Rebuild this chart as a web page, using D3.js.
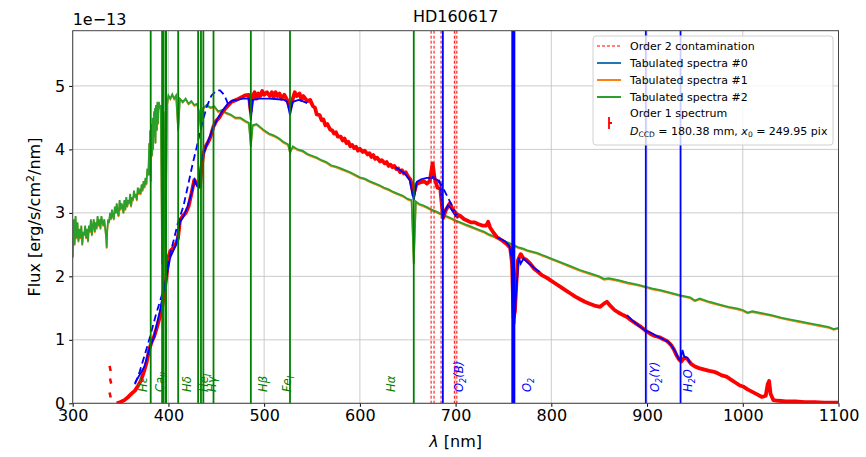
<!DOCTYPE html>
<html><head><meta charset="utf-8">
<script src="https://cdn.jsdelivr.net/npm/d3@7"></script>
<style>body{margin:0;background:#fff}svg{font-family:"DejaVu Sans",sans-serif}</style>
</head><body>
<svg id="c" width="866" height="457"></svg>
<script>
const title = "HD160617";
const xTicks = [300,400,500,600,700,800,900,1000,1100];
const yTicks = [0,1,2,3,4,5];

// Tabulated spectrum #2 (green) [nm, flux/1e-13]
const tab2 = [[300,2.3],[301,2.9],[302,2.5],[303,2.95],[304,2.6],[305,2.85],[306,2.55],[307,2.75],[308,2.6],[309,2.8],[310,2.5],[311,2.7],[312,2.65],[313,2.8],[314,2.6],[315,2.75],[316,2.55],[317,2.8],[318,2.7],[319,2.9],[320,2.65],[321,2.8],[322,2.9],[323,2.7],[324,2.85],[325,2.75],[326,2.95],[327,2.8],[328,2.9],[329,2.75],[330,2.95],[331,2.85],[332,2.8],[333,2.9],[334,2.75],[335,2.6],[335.5,2.45],[336,2.7],[337,2.9],[338,2.85],[339,3.0],[340,2.9],[341,3.05],[342,2.95],[343,2.9],[344,3.1],[345,3.0],[346,3.15],[347,3.0],[348,2.95],[349,3.2],[350,3.05],[351,3.15],[352,3.1],[353,3.0],[354,3.2],[355,3.05],[356,3.25],[357,3.1],[358,3.2],[359,3.15],[360,3.3],[361,3.1],[362,3.25],[363,3.2],[364,3.35],[365,3.25],[366,3.3],[367,3.2],[368,3.4],[369,3.3],[370,3.35],[371,3.3],[372,3.45],[373,3.35],[374,3.5],[375,3.4],[376,3.55],[377,3.45],[378,3.7],[379,3.6],[380,4.1],[380.5,3.6],[381,4.3],[381.5,3.5],[382,4.4],[383,3.9],[383.5,4.5],[384,4.0],[385,4.6],[385.5,4.2],[386,4.65],[386.5,4.1],[387,4.7],[388,4.3],[388.5,4.75],[389,4.4],[390,4.75],[391,4.65],[392,4.7],[393.4,2.2],[395,4.6],[396.8,2.0],[398.5,4.7],[400,4.85],[402,4.8],[404,4.87],[406,4.8],[408,4.85],[410.2,4.3],[412,4.8],[415,4.75],[418,4.8],[421,4.72],[424,4.76],[427,4.7],[430,4.72],[432,4.6],[434,4.3],[436,4.65],[440,4.7],[444,4.66],[448,4.68],[452,4.6],[456,4.62],[460,4.58],[465,4.55],[470,4.5],[475,4.5],[480,4.45],[484,4.42],[486.1,4.05],[488,4.38],[492,4.4],[496,4.35],[500,4.3],[505,4.25],[510,4.22],[515,4.18],[520,4.12],[525,4.08],[527,3.95],[530,4.05],[535,4.0],[540,3.98],[545,3.93],[550,3.9],[555,3.87],[560,3.83],[565,3.8],[570,3.75],[575,3.73],[580,3.7],[585,3.67],[590,3.64],[595,3.6],[600,3.56],[605,3.54],[610,3.5],[615,3.47],[620,3.44],[625,3.4],[630,3.37],[635,3.33],[640,3.3],[645,3.27],[650,3.22],[654,3.2],[656.3,2.2],[658.5,3.18],[662,3.14],[666,3.12],[670,3.09],[675,3.05],[680,3.02],[685,2.98],[690,2.95],[695,2.92],[700,2.88],[705,2.85],[710,2.82],[715,2.79],[720,2.76],[725,2.73],[730,2.7],[735,2.66],[740,2.63],[745,2.6],[750,2.56],[755,2.53],[760,2.5],[765,2.46],[770,2.44],[775,2.41],[780,2.39],[785,2.37],[790,2.34],[795,2.31],[800,2.28],[810,2.22],[820,2.16],[830,2.1],[840,2.05],[850,2.0],[855,1.96],[860,1.97],[870,1.94],[880,1.9],[890,1.87],[898,1.84],[905,1.81],[915,1.78],[925,1.74],[935,1.7],[945,1.67],[950,1.62],[955,1.65],[965,1.6],[975,1.56],[985,1.52],[995,1.49],[1000,1.47],[1005,1.43],[1010,1.45],[1020,1.42],[1030,1.39],[1040,1.35],[1050,1.32],[1060,1.29],[1070,1.26],[1080,1.23],[1090,1.2],[1095,1.17],[1100,1.19]];

// Order 1 spectrum (red)
const order1 = [[346,0.0],[350,0.02],[354,0.05],[358,0.1],[362,0.16],[365,0.2],[368,0.27],[371,0.35],[374,0.48],[377,0.63],[380,0.85],[382.5,0.97],[385,1.05],[388,1.2],[391,1.36],[393.4,1.5],[396,1.78],[398,2.0],[400,2.3],[402,2.4],[405,2.45],[408,2.52],[410,2.6],[412,2.88],[415,2.95],[418,3.0],[421,3.1],[424,3.3],[427,3.52],[430,3.45],[433,3.41],[434.5,3.7],[436.5,3.94],[439,4.05],[441.7,4.12],[444,4.2],[447,4.36],[450,4.45],[453,4.5],[457,4.6],[461,4.67],[466,4.75],[471,4.78],[476,4.82],[480,4.85],[484,4.86],[486,4.6],[488,4.84],[490,4.9],[492,4.8],[494,4.88],[496,4.84],[498,4.92],[500,4.86],[503,4.9],[506,4.84],[508,4.9],[510,4.82],[512,4.9],[514,4.84],[516,4.88],[518,4.8],[521,4.86],[524,4.78],[527,4.65],[530,4.8],[532,4.9],[534,4.84],[537,4.88],[539,4.78],[541,4.84],[545,4.76],[548,4.78],[551,4.68],[553,4.66],[555,4.55],[558,4.54],[560,4.46],[562,4.47],[564,4.38],[566,4.4],[569,4.31],[571,4.3],[573,4.25],[575,4.27],[577,4.2],[580,4.2],[582,4.14],[584,4.17],[586,4.1],[588,4.12],[590,4.05],[592,4.07],[594,4.02],[596,4.04],[598,3.98],[600,4.01],[603,3.96],[605,3.98],[608,3.92],[610,3.94],[612,3.88],[614,3.91],[616,3.85],[618,3.87],[621,3.81],[623,3.83],[626,3.78],[628,3.8],[630,3.74],[632,3.76],[634,3.72],[636,3.74],[638,3.69],[640,3.7],[642,3.64],[644,3.67],[646,3.62],[648,3.64],[650,3.58],[653,3.52],[656,3.28],[659,3.45],[663,3.48],[667,3.5],[670,3.46],[673,3.5],[676,3.78],[678,3.55],[681,3.4],[684,3.38],[687,2.92],[690,3.05],[694,3.15],[697,3.05],[701,2.98],[705,2.95],[709,2.9],[712,2.88],[716,2.85],[720,2.85],[724,2.82],[728,2.8],[732,2.8],[734,2.86],[736,2.77],[740,2.68],[743,2.62],[747,2.58],[750,2.55],[754,2.5],[757,2.45],[759,2.2],[760.5,1.35],[762,1.45],[763.5,1.9],[765,2.25],[768,2.35],[771,2.28],[774,2.26],[778,2.2],[782,2.12],[786,2.07],[790,2.02],[795,1.98],[800,1.93],[805,1.88],[810,1.83],[815,1.78],[820,1.73],[825,1.68],[830,1.64],[835,1.6],[840,1.57],[845,1.54],[851,1.52],[855,1.57],[858,1.6],[862,1.53],[866,1.47],[870,1.43],[875,1.39],[879,1.36],[884,1.3],[889,1.25],[894,1.2],[898,1.15],[903,1.1],[908,1.06],[913,1.04],[917,1.01],[921,0.98],[925,0.92],[928,0.85],[931,0.75],[934,0.68],[936,0.66],[939,0.72],[942,0.7],[946,0.62],[950,0.58],[955,0.55],[960,0.53],[965,0.51],[969,0.5],[973,0.48],[978,0.44],[983,0.42],[988,0.37],[993,0.32],[997,0.28],[1001,0.26],[1005,0.22],[1010,0.18],[1015,0.14],[1020,0.1],[1024,0.12],[1026,0.3],[1027.5,0.35],[1029,0.15],[1032,0.05],[1037,0.04],[1045,0.03],[1055,0.03],[1065,0.02],[1075,0.02],[1085,0.01],[1095,0.01],[1100,0.01]];
// isolated order-1 points with error bars [nm, flux, err]
const order1Pts = [[338.5,0.55,0.04],[339,0.35,0.04],[338.5,0.13,0.04]];

// blue solid model segments
const modelSolid = [
 [[365,0.32],[370,0.45],[375,0.58],[380,0.85],[385,1.05],[391,1.45],[398,2.0],[402,2.3],[408,2.5],[412,2.85],[416,2.95],[420,3.1],[424,3.3],[427.5,3.52],[430,3.42],[432,3.41],[434,3.8],[437,3.95],[442,4.15],[447,4.35],[452,4.5],[457,4.62],[462,4.72],[467,4.77],[472,4.78],[478,4.8],[484,4.8],[486.1,4.46],[488,4.78],[495,4.8],[505,4.8],[515,4.79],[521,4.78],[524,4.75],[527,4.54],[530,4.75],[536,4.78],[540,4.76],[545,4.73]],
 [[637,3.72],[642,3.67],[647,3.62],[652,3.52],[656.3,3.2],[659.5,3.49],[664,3.53],[670,3.55],[676,3.55],[681,3.52],[684,3.45],[686.7,2.9],[688,3.0],[692,3.12],[696,3.05],[700,2.95],[703,2.92]],
 [[743,2.62],[748,2.58],[752,2.55],[756,2.48],[758.5,2.3],[760,1.3],[761.5,1.25],[763,1.7],[764.5,2.0],[766,2.3],[768,2.2],[771,2.28],[775,2.22],[780,2.16],[785,2.1],[788,2.07]],
 [[879,1.39],[885,1.3],[890,1.24],[895,1.18],[898.7,1.14],[903,1.12],[910,1.06],[917,1.01],[922,0.97],[926,0.9],[930,0.8],[933,0.7],[935,0.68],[937,0.84],[939,0.73],[942,0.72],[945,0.63]]
];
// blue dashed model segments
const modelDashed = [
 [[365,0.3],[370,0.5],[375,0.75],[380.8,1.05],[387,1.4],[394.7,1.78],[401.7,2.35],[406,2.6],[410,2.85],[415.6,3.1],[420,3.4],[425,3.75],[429.6,4.04],[435,4.4],[440,4.67],[445,4.85],[450.5,4.93],[454,4.93],[457,4.88],[460,4.8],[462.6,4.7],[466,4.76]],
 [[672,3.55],[677,3.57],[681,3.55],[685,3.45],[690,3.3],[695,3.15],[700,3.0],[704,2.92]]
];

// vertical lines
const order2Lines = [674.4,677.5,684.8,686.2,698.7,701.3];
const atomLines = [381.5,393.4,394.4,396.8,397.6,410.2,431.0,434.0,436.5,447.1,486.1,527.0,656.3];
const atmLines = [686.7,898.7,935.0];
const o2ALine = 760.3;
// labels: [text, subscript, suffix, label x (nm), colour group]
const labels = [
 ["Hε","","",373.5,"g"],["Ca","II","",391,"g"],["Hδ","","",419.5,"g"],["He","I","",437.5,"g"],["Hγ","","",445.5,"g"],
 ["Hβ","","",498.5,"g"],["Fe","I","",523.5,"g"],["Hα","","",633,"g"],
 ["O","2","(B)",703.5,"b"],["O","2","",774.5,"b"],["O","2","(Y)",908.5,"b"],["H","2","O",943,"b"]
];

const svg = d3.select("#c");
const x = d3.scaleLinear().domain([300,1100]).range([72.7,838.5]);
const y = d3.scaleLinear().domain([0,5.87]).range([403.3,30.7]);
const [x0,x1] = x.range(), [yb,yt] = y.range();

svg.append("defs").append("clipPath").attr("id","clip").append("rect")
 .attr("x",x0).attr("y",yt).attr("width",x1-x0).attr("height",yb-yt);

// grid
const grid = svg.append("g").attr("stroke","#b0b0b0").attr("stroke-width",0.8).attr("opacity",0.8);
xTicks.forEach(t=>grid.append("line").attr("x1",x(t)).attr("x2",x(t)).attr("y1",yt).attr("y2",yb));
yTicks.forEach(t=>grid.append("line").attr("y1",y(t)).attr("y2",y(t)).attr("x1",x0).attr("x2",x1));

const plot = svg.append("g").attr("clip-path","url(#clip)");
const line = d3.line().x(d=>x(d[0])).y(d=>y(d[1]));

// tabulated #1 (orange, under) and #2 (green)
plot.append("path").datum(tab2).attr("d",d3.line().x(d=>x(d[0])).y(d=>y(d[1])+1)).attr("fill","none").attr("stroke","#ff7f0e").attr("stroke-width",1.5);
plot.append("path").datum(tab2).attr("d",line).attr("fill","none").attr("stroke","#2ca02c").attr("stroke-width",1.8);

// order 1 spectrum
plot.append("path").datum(order1).attr("d",line).attr("fill","none").attr("stroke","#ff0000").attr("stroke-width",3.8).attr("stroke-linejoin","round");
order1Pts.forEach(p=>plot.append("line").attr("x1",x(p[0])).attr("x2",x(p[0]+1.2)).attr("y1",y(p[1]+p[2])).attr("y2",y(p[1]-p[2])).attr("stroke","#ff0000").attr("stroke-width",2.5));

// model
modelSolid.forEach(s=>plot.append("path").datum(s).attr("d",line).attr("fill","none").attr("stroke","#0000ff").attr("stroke-width",1.8));
modelDashed.forEach(s=>plot.append("path").datum(s).attr("d",line).attr("fill","none").attr("stroke","#0000ff").attr("stroke-width",1.8).attr("stroke-dasharray","7,4"));

// vertical lines
order2Lines.forEach(v=>plot.append("line").attr("x1",x(v)).attr("x2",x(v)).attr("y1",yt).attr("y2",yb).attr("stroke","#ff0000").attr("stroke-width",1).attr("stroke-dasharray","3,2"));
atomLines.forEach(v=>plot.append("line").attr("x1",x(v)).attr("x2",x(v)).attr("y1",yt).attr("y2",yb).attr("stroke","#008000").attr("stroke-width",1.8));
atmLines.forEach(v=>plot.append("line").attr("x1",x(v)).attr("x2",x(v)).attr("y1",yt).attr("y2",yb).attr("stroke","#0000ff").attr("stroke-width",1.8));
plot.append("line").attr("x1",x(o2ALine)).attr("x2",x(o2ALine)).attr("y1",yt).attr("y2",yb).attr("stroke","#0000ff").attr("stroke-width",4);

// line labels
labels.forEach(l=>{
 const t = svg.append("text").attr("transform",`translate(${x(l[3])+4},392) rotate(-90)`)
  .attr("font-size",11.5).attr("font-style","italic").attr("fill",l[4]==="g"?"#008000":"#0000ff");
 t.append("tspan").text(l[0]);
 if(l[1]) t.append("tspan").attr("font-size",8).attr("dy",3).text(l[1]);
 if(l[2]) t.append("tspan").attr("dy",l[1]?-3:0).text(l[2]);
});

// axes
const ax = svg.append("g").attr("transform",`translate(0,${yb})`).call(d3.axisBottom(x).tickValues(xTicks).tickSize(3.5).tickPadding(3).tickFormat(d3.format("d")));
const ay = svg.append("g").attr("transform",`translate(${x0},0)`).call(d3.axisLeft(y).tickValues(yTicks).tickSize(3.5).tickPadding(4).tickFormat(d3.format("d")));
[ax,ay].forEach(a=>{a.select(".domain").remove();a.selectAll("text").attr("font-size",16).attr("font-family","DejaVu Sans").attr("fill","#000");a.selectAll("line").attr("stroke","#000")});
svg.append("rect").attr("x",x0).attr("y",yt).attr("width",x1-x0).attr("height",yb-yt).attr("fill","none").attr("stroke","#444").attr("stroke-width",1);

svg.append("text").attr("x",(x0+x1)/2).attr("y",22).attr("text-anchor","middle").attr("font-size",16).text(title);
svg.append("text").attr("x",x0).attr("y",25).attr("font-size",16).text("1e−13");
svg.append("text").attr("x",(x0+x1)/2).attr("y",447).attr("text-anchor","middle").attr("font-size",16)
 .html('<tspan font-style="italic">λ</tspan> [nm]');
const yl = svg.append("text").attr("transform",`translate(40,${(yt+yb)/2}) rotate(-90)`).attr("text-anchor","middle").attr("font-size",16);
yl.append("tspan").text("Flux [erg/s/cm");
yl.append("tspan").attr("font-size",11).attr("dy",-6).text("2");
yl.append("tspan").attr("dy",6).text("/nm]");

// legend
const lg = svg.append("g");
lg.append("rect").attr("x",593).attr("y",36).attr("width",240).attr("height",109).attr("rx",3)
 .attr("fill","#fff").attr("fill-opacity",0.8).attr("stroke","#d0d0d0");
const items = [["Order 2 contamination","#ff0000","3,2",1],["Tabulated spectra #0","#1f77b4",null,2],["Tabulated spectra #1","#ff7f0e",null,2],["Tabulated spectra #2","#2ca02c",null,2]];
items.forEach((it,i)=>{
 const yy = 46+i*17;
 lg.append("line").attr("x1",597).attr("x2",621).attr("y1",yy).attr("y2",yy).attr("stroke",it[1]).attr("stroke-width",it[3]).attr("stroke-dasharray",it[2]);
 lg.append("text").attr("x",630).attr("y",yy+4).attr("font-size",11).text(it[0]);
});
lg.append("text").attr("x",630).attr("y",117).attr("font-size",11).text("Order 1 spectrum");
lg.append("line").attr("x1",609).attr("x2",609).attr("y1",117).attr("y2",129).attr("stroke","#ff0000").attr("stroke-width",1.8);
lg.append("line").attr("x1",609).attr("x2",612).attr("y1",123).attr("y2",123).attr("stroke","#ff0000").attr("stroke-width",2);
const t2 = lg.append("text").attr("x",630).attr("y",135).attr("font-size",11);
t2.append("tspan").attr("font-style","italic").text("D");
t2.append("tspan").attr("font-size",7.5).attr("dy",2).text("CCD");
t2.append("tspan").attr("dy",-2).text(" = 180.38 mm, ");
t2.append("tspan").attr("font-style","italic").text("x");
t2.append("tspan").attr("font-size",7.5).attr("dy",2).text("0");
t2.append("tspan").attr("dy",-2).text(" = 249.95 pix");
</script></body></html>
